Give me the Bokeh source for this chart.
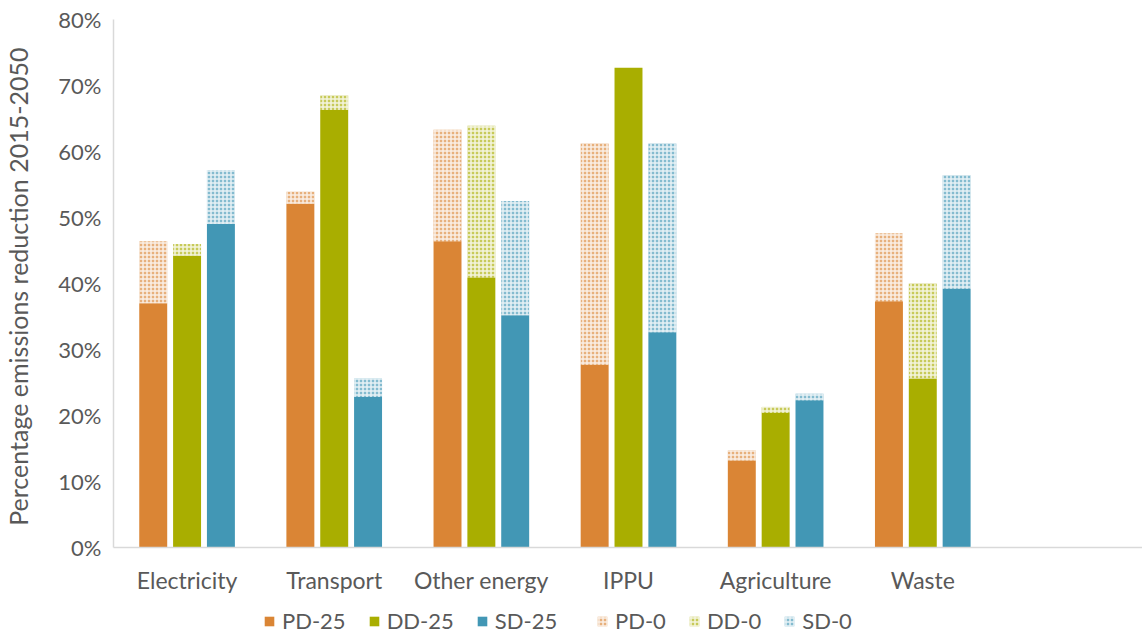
from bokeh.plotting import figure
from bokeh.layouts import column
from bokeh.models import ColumnDataSource, FactorRange, Legend, LegendItem, PrintfTickFormatter, FixedTicker
from bokeh.transform import dodge
from bokeh.embed import file_html
from bokeh.resources import INLINE

categories = ["Electricity", "Transport", "Other energy", "IPPU", "Agriculture", "Waste"]
factors = categories + [" "]

pd25 = [37.0, 52.1, 46.4, 27.7, 13.2, 37.3]
dd25 = [44.2, 66.3, 40.9, 72.7, 20.4, 25.6]
sd25 = [49.0, 22.8, 35.2, 32.6, 22.3, 39.2]
pd0 = [46.4, 53.9, 63.3, 61.2, 14.7, 47.6]
dd0 = [46.0, 68.5, 63.9, 72.7, 21.3, 40.0]
sd0 = [57.2, 25.6, 52.5, 61.2, 23.3, 56.4]

y_ticks = [0, 10, 20, 30, 40, 50, 60, 70, 80]

ORANGE = "#DA8535"
GREEN = "#A9AE00"
BLUE = "#4297B5"
TXT = "#595959"
FONT = "Lato"

src = ColumnDataSource(dict(cat=categories, pd25=pd25, dd25=dd25, sd25=sd25,
                            pd0=pd0, dd0=dd0, sd0=sd0))

p = figure(frame_width=1030, frame_height=528, x_range=FactorRange(*factors, range_padding=0),
           y_range=(0, 80), output_backend="svg", toolbar_location=None,
           min_border_left=112, min_border_right=0, min_border_top=19, min_border_bottom=53)

W = 0.19
OFF = 0.23
series = [("PD", -OFF, ORANGE, "pd25", "pd0"),
          ("DD", 0.0, GREEN, "dd25", "dd0"),
          ("SD", OFF, BLUE, "sd25", "sd0")]
SOLID = dict(line_color=None)
HATCH = dict(fill_alpha=0.65, line_color=None, hatch_pattern="cross", hatch_color="white",
             hatch_alpha=0.8, hatch_scale=4, hatch_weight=1.5)
for name, off, col, k25, k0 in series:
    p.vbar(x=dodge("cat", off, range=p.x_range), top=k25, bottom=0, width=W, source=src,
           fill_color=col, **SOLID)
for name, off, col, k25, k0 in series:
    p.vbar(x=dodge("cat", off, range=p.x_range), top=k0, bottom=k25, width=W, source=src,
           fill_color=col, **HATCH)

p.grid.visible = False
p.outline_line_color = None

p.yaxis.ticker = FixedTicker(ticks=y_ticks)
p.yaxis.formatter = PrintfTickFormatter(format="%d%%")
p.yaxis.axis_label = "Percentage emissions reduction  2015-2050"
p.yaxis.axis_label_text_font = FONT
p.yaxis.axis_label_text_font_style = "normal"
p.yaxis.axis_label_text_font_size = "25px"
p.yaxis.axis_label_text_color = TXT
p.yaxis.axis_label_standoff = 22
for ax in (p.xaxis, p.yaxis):
    ax.major_label_text_font = FONT
    ax.major_label_text_color = TXT
    ax.major_tick_line_color = None
    ax.minor_tick_line_color = None
    ax.axis_line_color = "#D9D9D9"
    ax.axis_line_width = 1.5
p.yaxis.major_label_text_font_size = "22px"
p.xaxis.major_label_text_font_size = "23px"
p.yaxis.major_label_standoff = 6
p.xaxis.major_label_standoff = 12
p.xaxis.group_text_font_size = "0px"

# legend strip below the chart: hidden proxy bars, only the legend entries are drawn
lg = figure(frame_width=1142, frame_height=37, x_range=FactorRange(*factors, range_padding=0),
            y_range=(0, 80), output_backend="svg", toolbar_location=None,
            x_axis_location=None, y_axis_location=None,
            min_border_left=0, min_border_right=0, min_border_top=0, min_border_bottom=0)
lg.grid.visible = False
lg.outline_line_color = None
solid_r, hatch_r = [], []
for name, off, col, k25, k0 in series:
    r = lg.vbar(x=dodge("cat", off, range=lg.x_range), top=k25, bottom=0,
                width=W, source=src, fill_color=col, **SOLID)
    r.visible = False
    solid_r.append((name + "-25", r))
for name, off, col, k25, k0 in series:
    r = lg.vbar(x=dodge("cat", off, range=lg.x_range), top=k0, bottom=k25,
                width=W, source=src, fill_color=col, **HATCH)
    r.visible = False
    hatch_r.append((name + "-0", r))

leg_kw = dict(orientation="horizontal", click_policy="none",
              label_text_font=FONT, label_text_font_size="22px", label_text_color=TXT,
              glyph_width=12, glyph_height=12, label_standoff=7, spacing=22,
              border_line_color=None, background_fill_alpha=0, padding=2, margin=0)
legend1 = Legend(items=[LegendItem(label=l, renderers=[r]) for l, r in solid_r],
                 location=(263, 3), **leg_kw)
legend2 = Legend(items=[LegendItem(label=l, renderers=[r]) for l, r in hatch_r],
                 location=(596, 3), **leg_kw)
lg.add_layout(legend1)
lg.add_layout(legend2)

layout = column(p, lg, spacing=0)
open("out.html", "w").write(file_html(layout, INLINE))
